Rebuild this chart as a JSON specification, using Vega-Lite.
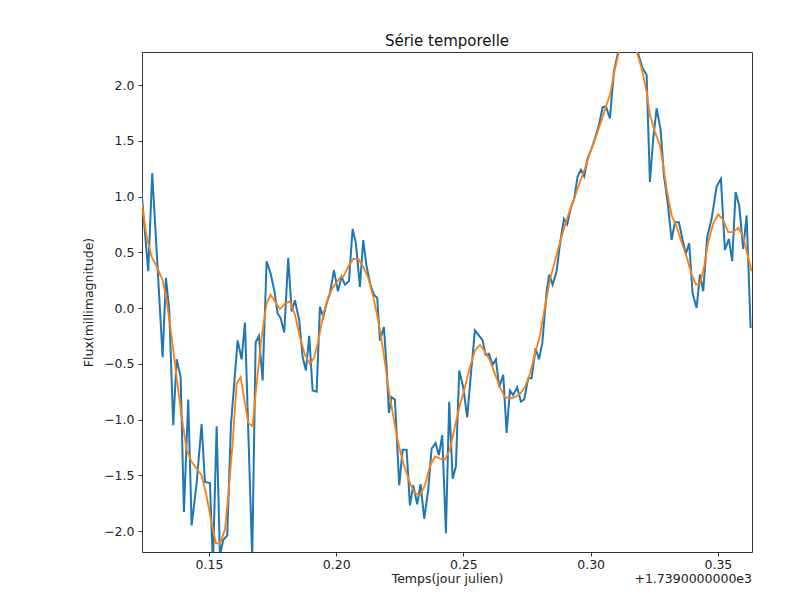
{
  "$schema": "https://vega.github.io/schema/vega-lite/v6.json",
  "width": 610,
  "height": 500,
  "autosize": {"type": "none"},
  "padding": {"left": 142, "top": 52, "right": 56, "bottom": 48},
  "background": "white",
  "title": {"text": "Série temporelle", "fontSize": 15, "fontWeight": "normal", "font": "DejaVu Sans", "color": "#111", "offset": 3},
  "config": {
    "view": {"stroke": "#333", "strokeWidth": 1},
    "axis": {
      "labelFont": "DejaVu Sans", "titleFont": "DejaVu Sans",
      "labelFontSize": 12.5, "titleFontSize": 12.5, "titleFontWeight": "normal",
      "labelColor": "#222", "titleColor": "#222",
      "tickColor": "#333", "tickSize": 4, "grid": false, "domain": false
    }
  },
  "datasets": {
    "brut": [
      {"t": 1739.12356, "flux": 1.03}, {"t": 1739.12615, "flux": 0.33}, {"t": 1739.12772, "flux": 1.21},
      {"t": 1739.13181, "flux": -0.44}, {"t": 1739.13310, "flux": 0.27}, {"t": 1739.13440, "flux": -0.02},
      {"t": 1739.13597, "flux": -1.05}, {"t": 1739.13731, "flux": -0.46}, {"t": 1739.13888, "flux": -0.62},
      {"t": 1739.14018, "flux": -1.83}, {"t": 1739.14187, "flux": -0.82}, {"t": 1739.14320, "flux": -1.95},
      {"t": 1739.14517, "flux": -1.57}, {"t": 1739.14713, "flux": -1.04}, {"t": 1739.14843, "flux": -1.56},
      {"t": 1739.15039, "flux": -1.57}, {"t": 1739.15157, "flux": -2.3}, {"t": 1739.15303, "flux": -1.06},
      {"t": 1739.15432, "flux": -2.22}, {"t": 1739.15562, "flux": -2.08}, {"t": 1739.15719, "flux": -2.04},
      {"t": 1739.15864, "flux": -1.05}, {"t": 1739.16128, "flux": -0.29}, {"t": 1739.16285, "flux": -0.46},
      {"t": 1739.16415, "flux": -0.13}, {"t": 1739.16701, "flux": -2.25}, {"t": 1739.16835, "flux": -0.31},
      {"t": 1739.16965, "flux": -0.25}, {"t": 1739.17110, "flux": -0.65}, {"t": 1739.17267, "flux": 0.42},
      {"t": 1739.17424, "flux": 0.31}, {"t": 1739.17566, "flux": 0.16}, {"t": 1739.17699, "flux": -0.05},
      {"t": 1739.17817, "flux": -0.09}, {"t": 1739.17959, "flux": -0.22}, {"t": 1739.18116, "flux": 0.45},
      {"t": 1739.18250, "flux": -0.03}, {"t": 1739.18379, "flux": 0.07}, {"t": 1739.18548, "flux": -0.11},
      {"t": 1739.18682, "flux": -0.44}, {"t": 1739.18811, "flux": -0.56}, {"t": 1739.18941, "flux": -0.25},
      {"t": 1739.19075, "flux": -0.74}, {"t": 1739.19232, "flux": -0.75}, {"t": 1739.19362, "flux": 0.01},
      {"t": 1739.19491, "flux": -0.08}, {"t": 1739.19625, "flux": 0.04}, {"t": 1739.19754, "flux": 0.13},
      {"t": 1739.19912, "flux": 0.34}, {"t": 1739.20069, "flux": 0.15}, {"t": 1739.20214, "flux": 0.28},
      {"t": 1739.20344, "flux": 0.21}, {"t": 1739.20501, "flux": 0.24}, {"t": 1739.20646, "flux": 0.71},
      {"t": 1739.20776, "flux": 0.58}, {"t": 1739.20933, "flux": 0.19}, {"t": 1739.21063, "flux": 0.61},
      {"t": 1739.21197, "flux": 0.37}, {"t": 1739.21354, "flux": 0.20}, {"t": 1739.21483, "flux": 0.12},
      {"t": 1739.21613, "flux": 0.09}, {"t": 1739.21719, "flux": -0.29}, {"t": 1739.21876, "flux": -0.17},
      {"t": 1739.21982, "flux": -0.53}, {"t": 1739.22073, "flux": -0.94}, {"t": 1739.22179, "flux": -0.80},
      {"t": 1739.22308, "flux": -0.82}, {"t": 1739.22478, "flux": -1.59}, {"t": 1739.22611, "flux": -1.27},
      {"t": 1739.22768, "flux": -1.27}, {"t": 1739.22898, "flux": -1.77}, {"t": 1739.23028, "flux": -1.59},
      {"t": 1739.23185, "flux": -1.76}, {"t": 1739.23318, "flux": -1.58}, {"t": 1739.23460, "flux": -1.89},
      {"t": 1739.23617, "flux": -1.63}, {"t": 1739.23751, "flux": -1.26}, {"t": 1739.23908, "flux": -1.21},
      {"t": 1739.24037, "flux": -1.32}, {"t": 1739.24167, "flux": -1.14}, {"t": 1739.24312, "flux": -2.02},
      {"t": 1739.24442, "flux": -0.84}, {"t": 1739.24576, "flux": -1.53}, {"t": 1739.24705, "flux": -1.42},
      {"t": 1739.24835, "flux": -0.56}, {"t": 1739.24992, "flux": -0.71}, {"t": 1739.25149, "flux": -0.98},
      {"t": 1739.25295, "flux": -0.59}, {"t": 1739.25452, "flux": -0.20}, {"t": 1739.25621, "flux": -0.25},
      {"t": 1739.25754, "flux": -0.29}, {"t": 1739.25872, "flux": -0.42}, {"t": 1739.26002, "flux": -0.41},
      {"t": 1739.26147, "flux": -0.51}, {"t": 1739.26277, "flux": -0.46}, {"t": 1739.26407, "flux": -0.71},
      {"t": 1739.26564, "flux": -0.60}, {"t": 1739.26698, "flux": -1.12}, {"t": 1739.26827, "flux": -0.74},
      {"t": 1739.26957, "flux": -0.78}, {"t": 1739.27114, "flux": -0.71}, {"t": 1739.27259, "flux": -0.84},
      {"t": 1739.27389, "flux": -0.82}, {"t": 1739.27546, "flux": -0.63}, {"t": 1739.27680, "flux": -0.63},
      {"t": 1739.27837, "flux": -0.36}, {"t": 1739.27967, "flux": -0.46}, {"t": 1739.28097, "flux": -0.32},
      {"t": 1739.28270, "flux": 0.15}, {"t": 1739.28371, "flux": 0.30}, {"t": 1739.28505, "flux": 0.21},
      {"t": 1739.28662, "flux": 0.33}, {"t": 1739.28792, "flux": 0.57}, {"t": 1739.28949, "flux": 0.80},
      {"t": 1739.29079, "flux": 0.75}, {"t": 1739.29212, "flux": 0.89}, {"t": 1739.29354, "flux": 0.98},
      {"t": 1739.29488, "flux": 1.18}, {"t": 1739.29617, "flux": 1.24}, {"t": 1739.29747, "flux": 1.18},
      {"t": 1739.29880, "flux": 1.34}, {"t": 1739.30037, "flux": 1.43}, {"t": 1739.30167, "flux": 1.52},
      {"t": 1739.30324, "flux": 1.64}, {"t": 1739.30470, "flux": 1.80}, {"t": 1739.30599, "flux": 1.81},
      {"t": 1739.30757, "flux": 1.70}, {"t": 1739.30914, "flux": 2.12}, {"t": 1739.31083, "flux": 2.30},
      {"t": 1739.31228, "flux": 2.45}, {"t": 1739.31385, "flux": 2.55}, {"t": 1739.31542, "flux": 2.50},
      {"t": 1739.31700, "flux": 2.40}, {"t": 1739.31869, "flux": 2.28}, {"t": 1739.32042, "flux": 2.15},
      {"t": 1739.32199, "flux": 2.09}, {"t": 1739.32328, "flux": 1.13}, {"t": 1739.32458, "flux": 1.52},
      {"t": 1739.32592, "flux": 1.79}, {"t": 1739.32749, "flux": 1.60}, {"t": 1739.32878, "flux": 1.19},
      {"t": 1739.33024, "flux": 0.95}, {"t": 1739.33181, "flux": 0.61}, {"t": 1739.33311, "flux": 0.77},
      {"t": 1739.33468, "flux": 0.77}, {"t": 1739.33613, "flux": 0.61}, {"t": 1739.33743, "flux": 0.49},
      {"t": 1739.33872, "flux": 0.58}, {"t": 1739.34006, "flux": 0.13}, {"t": 1739.34163, "flux": 0.00},
      {"t": 1739.34293, "flux": 0.30}, {"t": 1739.34423, "flux": 0.15}, {"t": 1739.34580, "flux": 0.64},
      {"t": 1739.34753, "flux": 0.80}, {"t": 1739.34949, "flux": 1.09}, {"t": 1739.35118, "flux": 1.16},
      {"t": 1739.35275, "flux": 0.52}, {"t": 1739.35432, "flux": 0.62}, {"t": 1739.35562, "flux": 0.42},
      {"t": 1739.35696, "flux": 1.04}, {"t": 1739.35837, "flux": 0.92}, {"t": 1739.35994, "flux": 0.53},
      {"t": 1739.36128, "flux": 0.83}, {"t": 1739.36285, "flux": -0.18}
    ],
    "lisse": [
      {"t": 1739.12356, "flux": 0.94}, {"t": 1739.12552, "flux": 0.64}, {"t": 1739.12749, "flux": 0.46},
      {"t": 1739.12969, "flux": 0.36}, {"t": 1739.13181, "flux": 0.25}, {"t": 1739.13338, "flux": 0.07},
      {"t": 1739.13534, "flux": -0.26}, {"t": 1739.13731, "flux": -0.62}, {"t": 1739.13927, "flux": -0.97},
      {"t": 1739.14124, "flux": -1.27}, {"t": 1739.14320, "flux": -1.38}, {"t": 1739.14517, "flux": -1.44},
      {"t": 1739.14713, "flux": -1.50}, {"t": 1739.14910, "flux": -1.69}, {"t": 1739.15106, "flux": -1.93},
      {"t": 1739.15275, "flux": -2.11}, {"t": 1739.15432, "flux": -2.11}, {"t": 1739.15629, "flux": -1.99},
      {"t": 1739.15758, "flux": -1.69}, {"t": 1739.15931, "flux": -1.21}, {"t": 1739.16088, "flux": -0.68},
      {"t": 1739.16246, "flux": -0.62}, {"t": 1739.16375, "flux": -0.80}, {"t": 1739.16544, "flux": -1.03},
      {"t": 1739.16717, "flux": -1.06}, {"t": 1739.16874, "flux": -0.68}, {"t": 1739.17071, "flux": -0.26},
      {"t": 1739.17267, "flux": 0.04}, {"t": 1739.17424, "flux": 0.12}, {"t": 1739.17593, "flux": 0.06},
      {"t": 1739.17790, "flux": -0.01}, {"t": 1739.17986, "flux": 0.04}, {"t": 1739.18183, "flux": 0.06},
      {"t": 1739.18379, "flux": -0.06}, {"t": 1739.18576, "flux": -0.26}, {"t": 1739.18772, "flux": -0.42},
      {"t": 1739.18969, "flux": -0.50}, {"t": 1739.19126, "flux": -0.45}, {"t": 1739.19295, "flux": -0.30},
      {"t": 1739.19491, "flux": -0.06}, {"t": 1739.19688, "flux": 0.10}, {"t": 1739.19884, "flux": 0.19},
      {"t": 1739.20147, "flux": 0.27}, {"t": 1739.20277, "flux": 0.28}, {"t": 1739.20474, "flux": 0.37},
      {"t": 1739.20670, "flux": 0.44}, {"t": 1739.20866, "flux": 0.44}, {"t": 1739.21063, "flux": 0.37},
      {"t": 1739.21259, "flux": 0.27}, {"t": 1739.21456, "flux": 0.10}, {"t": 1739.21652, "flux": -0.11},
      {"t": 1739.21849, "flux": -0.38}, {"t": 1739.22045, "flux": -0.71}, {"t": 1739.22242, "flux": -0.97},
      {"t": 1739.22438, "flux": -1.21}, {"t": 1739.22635, "flux": -1.39}, {"t": 1739.22898, "flux": -1.57},
      {"t": 1739.23094, "flux": -1.66}, {"t": 1739.23291, "flux": -1.68}, {"t": 1739.23487, "flux": -1.59},
      {"t": 1739.23684, "flux": -1.42}, {"t": 1739.23880, "flux": -1.33}, {"t": 1739.24077, "flux": -1.35},
      {"t": 1739.24273, "flux": -1.36}, {"t": 1739.24470, "flux": -1.27}, {"t": 1739.24666, "flux": -1.06},
      {"t": 1739.24863, "flux": -0.87}, {"t": 1739.25059, "flux": -0.71}, {"t": 1739.25255, "flux": -0.53},
      {"t": 1739.25452, "flux": -0.38}, {"t": 1739.25648, "flux": -0.33}, {"t": 1739.25845, "flux": -0.39},
      {"t": 1739.26041, "flux": -0.47}, {"t": 1739.26238, "flux": -0.59}, {"t": 1739.26434, "flux": -0.71},
      {"t": 1739.26631, "flux": -0.80}, {"t": 1739.26827, "flux": -0.81}, {"t": 1739.27024, "flux": -0.80},
      {"t": 1739.27220, "flux": -0.77}, {"t": 1739.27417, "flux": -0.71}, {"t": 1739.27613, "flux": -0.59},
      {"t": 1739.27810, "flux": -0.41}, {"t": 1739.28006, "flux": -0.25}, {"t": 1739.28202, "flux": 0.01},
      {"t": 1739.28399, "flux": 0.25}, {"t": 1739.28595, "flux": 0.42}, {"t": 1739.28792, "flux": 0.59},
      {"t": 1739.28988, "flux": 0.74}, {"t": 1739.29185, "flux": 0.88}, {"t": 1739.29381, "flux": 1.00},
      {"t": 1739.29578, "flux": 1.13}, {"t": 1739.29774, "flux": 1.25}, {"t": 1739.29971, "flux": 1.39},
      {"t": 1739.30167, "flux": 1.51}, {"t": 1739.30364, "flux": 1.64}, {"t": 1739.30560, "flux": 1.78},
      {"t": 1739.30757, "flux": 1.91}, {"t": 1739.30914, "flux": 2.10}, {"t": 1739.31083, "flux": 2.27},
      {"t": 1739.31267, "flux": 2.40}, {"t": 1739.31464, "flux": 2.45}, {"t": 1739.31621, "flux": 2.40},
      {"t": 1739.31806, "flux": 2.30}, {"t": 1739.32002, "flux": 2.15}, {"t": 1739.32199, "flux": 1.94},
      {"t": 1739.32328, "flux": 1.73}, {"t": 1739.32525, "flux": 1.58}, {"t": 1739.32721, "flux": 1.46},
      {"t": 1739.32851, "flux": 1.28}, {"t": 1739.32984, "flux": 1.07}, {"t": 1739.33181, "flux": 0.83},
      {"t": 1739.33377, "flux": 0.73}, {"t": 1739.33574, "flux": 0.59}, {"t": 1739.33770, "flux": 0.46},
      {"t": 1739.33967, "flux": 0.30}, {"t": 1739.34136, "flux": 0.21}, {"t": 1739.34293, "flux": 0.22},
      {"t": 1739.34450, "flux": 0.36}, {"t": 1739.34619, "flux": 0.59}, {"t": 1739.34816, "flux": 0.76},
      {"t": 1739.35012, "flux": 0.84}, {"t": 1739.35209, "flux": 0.79}, {"t": 1739.35405, "flux": 0.68},
      {"t": 1739.35601, "flux": 0.68}, {"t": 1739.35798, "flux": 0.72}, {"t": 1739.35994, "flux": 0.64},
      {"t": 1739.36151, "flux": 0.49}, {"t": 1739.36324, "flux": 0.33}
    ],
    "decalage": [
      {"t": 1739.3634, "flux": -2.188, "label": "+1.7390000000e3"}
    ]
  },
  "layer": [
    {
      "data": {"name": "brut"},
      "mark": {"type": "line", "color": "#1f77b4", "strokeWidth": 2, "clip": true},
      "encoding": {
        "x": {
          "field": "t", "type": "quantitative",
          "scale": {"domain": [1739.1237, 1739.3634], "nice": false, "zero": false},
          "axis": {
            "title": "Temps(jour julien)",
            "values": [1739.15, 1739.2, 1739.25, 1739.3, 1739.35],
            "labelExpr": "format(datum.value - 1739, '.2f')",
            "labelPadding": 2, "titlePadding": 2
          }
        },
        "y": {
          "field": "flux", "type": "quantitative",
          "scale": {"domain": [-2.188, 2.296], "nice": false, "zero": false},
          "axis": {
            "title": "Flux(millimagnitude)",
            "values": [-2, -1.5, -1, -0.5, 0, 0.5, 1, 1.5, 2],
            "format": ".1f",
            "labelPadding": 4, "titlePadding": 8
          }
        }
      }
    },
    {
      "data": {"name": "lisse"},
      "mark": {"type": "line", "color": "#ff7f0e", "strokeWidth": 1.8, "clip": true},
      "encoding": {
        "x": {"field": "t", "type": "quantitative"},
        "y": {"field": "flux", "type": "quantitative"}
      }
    },
    {
      "data": {"name": "decalage"},
      "mark": {"type": "text", "align": "right", "baseline": "top", "dy": 21, "font": "DejaVu Sans", "fontSize": 12.5, "color": "#222"},
      "encoding": {
        "x": {"field": "t", "type": "quantitative"},
        "y": {"field": "flux", "type": "quantitative"},
        "text": {"field": "label", "type": "nominal"}
      }
    }
  ]
}
